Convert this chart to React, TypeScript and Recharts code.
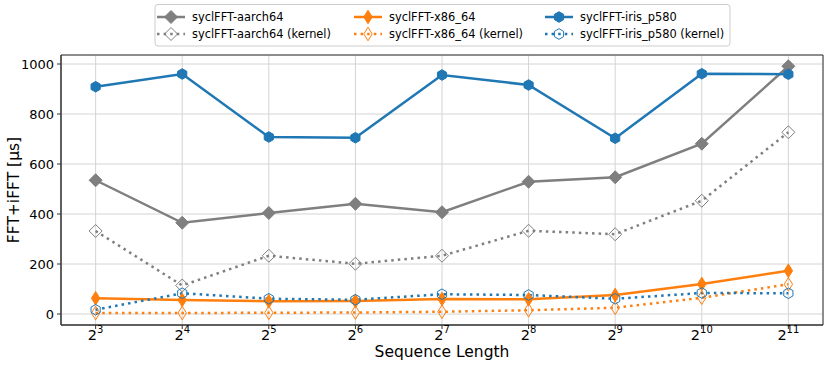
import React from 'react';
import { LineChart, Line, XAxis, YAxis, CartesianGrid, ReferenceArea, Label } from 'recharts';

const exponents = [3, 4, 5, 6, 7, 8, 9, 10, 11];
const aarch64 = [535, 365, 404, 441, 407, 529, 547, 681, 991];
const aarch64Kernel = [332, 114, 233, 201, 233, 333, 319, 453, 727];
const x86 = [63, 56, 51, 52, 60, 59, 76, 120, 173];
const x86Kernel = [4, 4, 5, 6, 9, 15, 25, 65, 119];
const iris = [909, 960, 708, 705, 956, 916, 703, 961, 959];
const irisKernel = [17, 83, 61, 57, 79, 76, 61, 84, 83];
const yTicks = [0, 200, 400, 600, 800, 1000];

const GRAY = '#7f7f7f';
const ORANGE = '#ff7f0e';
const BLUE = '#1f77b4';
const FONT = '"DejaVu Sans", sans-serif';

type Shape = 'D' | 'd' | 'h';

const series: { key: string; name: string; color: string; shape: Shape; filled: boolean; dotted: boolean; values: number[] }[] = [
  { key: 'aarch64', name: 'syclFFT-aarch64', color: GRAY, shape: 'D', filled: true, dotted: false, values: aarch64 },
  { key: 'aarch64Kernel', name: 'syclFFT-aarch64 (kernel)', color: GRAY, shape: 'D', filled: false, dotted: true, values: aarch64Kernel },
  { key: 'x86', name: 'syclFFT-x86_64', color: ORANGE, shape: 'd', filled: true, dotted: false, values: x86 },
  { key: 'x86Kernel', name: 'syclFFT-x86_64 (kernel)', color: ORANGE, shape: 'd', filled: false, dotted: true, values: x86Kernel },
  { key: 'iris', name: 'syclFFT-iris_p580', color: BLUE, shape: 'h', filled: true, dotted: false, values: iris },
  { key: 'irisKernel', name: 'syclFFT-iris_p580 (kernel)', color: BLUE, shape: 'h', filled: false, dotted: true, values: irisKernel },
];

const data = exponents.map((e, i) => {
  const row: Record<string, number> = { exp: e };
  series.forEach((s) => {
    row[s.key] = s.values[i];
  });
  return row;
});

function markerPoints(shape: Shape, cx: number, cy: number): string {
  if (shape === 'D') {
    const r = 6.5;
    return `${cx},${cy - r} ${cx + r},${cy} ${cx},${cy + r} ${cx - r},${cy}`;
  }
  if (shape === 'd') {
    const hw = 4.2;
    const hh = 6.8;
    return `${cx},${cy - hh} ${cx + hw},${cy} ${cx},${cy + hh} ${cx - hw},${cy}`;
  }
  const r = 5.3;
  const pts: string[] = [];
  for (let k = 0; k < 6; k++) {
    const a = ((-90 + 60 * k) * Math.PI) / 180;
    pts.push(`${cx + r * Math.cos(a)},${cy + r * Math.sin(a)}`);
  }
  return pts.join(' ');
}

function Marker({ shape, cx, cy, color, filled }: { shape: Shape; cx: number; cy: number; color: string; filled: boolean }) {
  return (
    <polygon
      points={markerPoints(shape, cx, cy)}
      fill={filled ? color : 'none'}
      stroke={color}
      strokeWidth={1}
    />
  );
}

const XTick = (props: any) => {
  const { x, y, payload } = props;
  return (
    <text x={x} y={y + 8.5} textAnchor="middle" fill="#000" fontFamily={FONT}>
      <tspan fontSize={14.5}>2</tspan>
      <tspan fontSize={10} dy={-6.5}>{payload.value}</tspan>
    </text>
  );
};

const legendCols = [157, 354, 545];
const legendRows = [17, 34];

export default function App() {
  return (
    <div style={{ position: 'absolute', left: 0, top: 0, width: 830, height: 369, background: '#fff' }}>
      <LineChart width={830} height={369} data={data} margin={{ top: 55, right: 7, bottom: 0, left: 0 }}>
        <CartesianGrid stroke="#d4d4d4" strokeWidth={1} />
        <XAxis
          dataKey="exp"
          type="number"
          domain={[2.6, 11.4]}
          ticks={exponents}
          allowDataOverflow
          height={44}
          tick={<XTick />}
          tickSize={4}
          tickMargin={2}
          axisLine={{ stroke: '#333' }}
          tickLine={{ stroke: '#333' }}
          interval={0}
        >
          <Label
            content={() => (
              <text x={442} y={357} textAnchor="middle" fontSize={15.5} fontFamily={FONT} fill="#000">
                Sequence Length
              </text>
            )}
          />
        </XAxis>
        <YAxis
          type="number"
          domain={[-44, 1036]}
          ticks={yTicks}
          allowDataOverflow
          width={61}
          tickSize={4}
          tickMargin={3}
          tick={{ fontSize: 13, fill: '#000', fontFamily: FONT }}
          axisLine={{ stroke: '#333' }}
          tickLine={{ stroke: '#333' }}
          interval={0}
        >
          <Label
            content={() => (
              <text
                x={14}
                y={190}
                textAnchor="middle"
                dominantBaseline="central"
                fontSize={15.5}
                fontFamily={FONT}
                fill="#000"
                transform="rotate(-90 14 190)"
              >
                FFT+iFFT [μs]
              </text>
            )}
          />
        </YAxis>
        {series.map((s) => (
          <Line
            key={s.key}
            dataKey={s.key}
            name={s.name}
            type="linear"
            stroke={s.color}
            strokeWidth={2.5}
            strokeDasharray={s.dotted ? '2.5 4.1' : undefined}
            isAnimationActive={false}
            activeDot={false}
            dot={(p: any) => (
              <Marker key={`${s.key}-${p.index}`} shape={s.shape} cx={p.cx} cy={p.cy} color={s.color} filled={s.filled} />
            )}
          />
        ))}
        <ReferenceArea x1={2.6} x2={11.4} y1={-44} y2={1036} fill="none" stroke="#333" strokeWidth={1} ifOverflow="visible" />
      </LineChart>
      <svg width={830} height={50} style={{ position: 'absolute', left: 0, top: 0, pointerEvents: 'none' }}>
        <rect x={155} y={4.5} width={575} height={41.5} rx={3} fill="#fff" fillOpacity={0.8} stroke="#cccccc" strokeWidth={1} />
        {series.map((s, i) => {
          const col = Math.floor(i / 2);
          const row = i % 2;
          const x0 = legendCols[col];
          const y0 = legendRows[row];
          return (
            <g key={s.key}>
              <line
                x1={x0}
                x2={x0 + 28}
                y1={y0}
                y2={y0}
                stroke={s.color}
                strokeWidth={2.5}
                strokeDasharray={s.dotted ? '2.5 4.1' : undefined}
              />
              <Marker shape={s.shape} cx={x0 + 14} cy={y0} color={s.color} filled={s.filled} />
              <text x={x0 + 35} y={y0 + 4} fontSize={11.4} fontFamily={FONT} fill="#000">
                {s.name}
              </text>
            </g>
          );
        })}
      </svg>
    </div>
  );
}
